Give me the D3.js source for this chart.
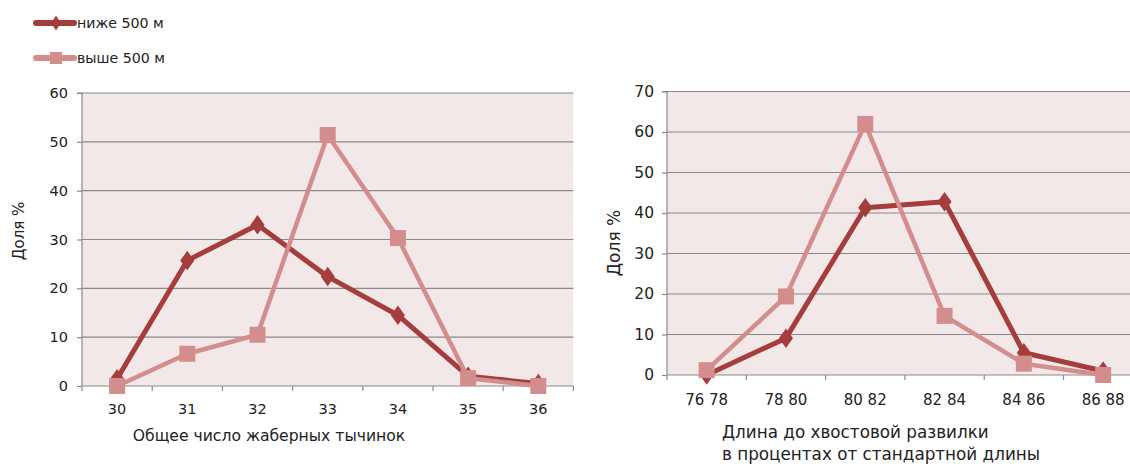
<!DOCTYPE html>
<html><head><meta charset="utf-8">
<script src="https://cdn.jsdelivr.net/npm/d3@7"></script>
<style>body{margin:0;background:#fff}svg{display:block}text{font-family:"DejaVu Sans",sans-serif;fill:#222}</style>
</head><body>
<svg id="c" width="1130" height="467"></svg>
<script>
const seriesNames = ["ниже 500 м", "выше 500 м"];
const colors = ["#a53d3d", "#d48d8d"];

const leftCategories = ["30","31","32","33","34","35","36"];
const leftBelow = [1.5, 25.7, 33, 22.4, 14.5, 2, 0.5];
const leftAbove = [0, 6.6, 10.5, 51.4, 30.3, 1.6, 0];
const leftTicks = [0,10,20,30,40,50,60];

const rightCategories = ["76 78","78 80","80 82","82 84","84 86","86 88"];
const rightBelow = [0, 9.1, 41.3, 42.8, 5.5, 1];
const rightAbove = [1.2, 19.4, 62, 14.6, 2.8, 0];
const rightTicks = [0,10,20,30,40,50,60,70];

const svg = d3.select("#c");

function chart(o){
  const g = svg.append("g");
  const x = d3.scaleBand().domain(o.cats).range([o.x0, o.x0 + o.bw*o.cats.length]);
  const y = d3.scaleLinear().domain([0, o.ymax]).range([o.y0, o.y1]);
  const clipId = "clip"+o.id;
  svg.append("clipPath").attr("id", clipId).append("rect").attr("x",0).attr("y",0).attr("width",o.clipR).attr("height",467);
  const gc = g.append("g").attr("clip-path","url(#"+clipId+")");
  gc.append("rect").attr("x",o.x0).attr("y",o.y1).attr("width",x.range()[1]-o.x0).attr("height",o.y0-o.y1).attr("fill","#f3e8e8");
  // gridlines
  gc.append("g").selectAll("line").data(o.ticks.filter(t=>t>0)).join("line")
    .attr("x1",o.x0).attr("x2",x.range()[1]).attr("y1",d=>y(d)).attr("y2",d=>y(d))
    .attr("stroke","#8a8a8a").attr("stroke-width",1.2);
  // y axis
  const ya = d3.axisLeft(y).tickValues(o.ticks).tickSize(5).tickPadding(o.ypad);
  const yg = g.append("g").attr("transform",`translate(${o.x0},0)`).call(ya);
  yg.select(".domain").attr("stroke","#8a8a8a").attr("stroke-width",1.2).attr("d",`M-5,${o.y1}H0V${o.y0}`);
  yg.selectAll(".tick line").attr("stroke","#8a8a8a").attr("stroke-width",1.2);
  yg.selectAll(".tick text").attr("font-size",o.yfs).attr("fill","#222").style("font-family",'"DejaVu Sans",sans-serif');
  // x axis
  const bounds = o.cats.map((c,i)=>x(c)).concat([x.range()[1]]);
  const xg = gc.append("g");
  xg.append("line").attr("x1",o.x0).attr("x2",x.range()[1]).attr("y1",o.y0).attr("y2",o.y0).attr("stroke","#8a8a8a").attr("stroke-width",1.2);
  xg.selectAll("line.t").data(bounds).join("line").attr("class","t")
    .attr("x1",d=>d).attr("x2",d=>d).attr("y1",o.y0).attr("y2",o.y0+5).attr("stroke","#8a8a8a").attr("stroke-width",1.2);
  g.append("g").selectAll("text").data(o.cats).join("text")
    .attr("x",d=>x(d)+x.bandwidth()/2).attr("y",o.xly).attr("text-anchor","middle")
    .attr("font-size",o.xfs).text(d=>d);
  // series
  const cx = d=>x(d)+x.bandwidth()/2;
  const line = d3.line().x(d=>cx(d[0])).y(d=>y(d[1]));
  const below = o.cats.map((c,i)=>[c,o.below[i]]);
  const above = o.cats.map((c,i)=>[c,o.above[i]]);
  gc.append("path").datum(below).attr("d",line).attr("fill","none").attr("stroke",colors[0]).attr("stroke-width",5).attr("stroke-linejoin","round");
  gc.append("g").selectAll("path").data(below).join("path")
    .attr("d",d3.symbol(d3.symbolDiamond,110)).attr("transform",d=>`translate(${cx(d[0])},${y(d[1])}) scale(1.25,1)`).attr("fill",colors[0]);
  gc.append("path").datum(above).attr("d",line).attr("fill","none").attr("stroke",colors[1]).attr("stroke-width",4.5).attr("stroke-linejoin","round");
  gc.append("g").selectAll("rect").data(above).join("rect")
    .attr("x",d=>cx(d[0])-8).attr("y",d=>y(d[1])-8).attr("width",16).attr("height",16).attr("fill",colors[1]);
  // axis titles
  g.append("text").attr("transform",`translate(${o.ytx},${o.yty}) rotate(-90)`).attr("text-anchor","middle")
    .attr("font-size",o.ytfs).text("Доля %");
  o.xt.forEach((t,i)=>{
    g.append("text").attr("x",o.xtx).attr("y",o.xty + i*o.xtlh).attr("text-anchor",o.xtanchor).attr("font-size",o.xtfs).text(t);
  });
}

chart({id:"L", cats:leftCategories, below:leftBelow, above:leftAbove, ticks:leftTicks, ymax:60,
  x0:82, bw:70.2, y0:386, y1:93, clipR:1130, ypad:9, yfs:14.5, xfs:14.5, xly:414,
  ytx:24, yty:231, ytfs:15, xt:["Общее число жаберных тычинок"], xtx:269, xty:441, xtlh:0, xtanchor:"middle", xtfs:15.6});

chart({id:"R", cats:rightCategories, below:rightBelow, above:rightAbove, ticks:rightTicks, ymax:70,
  x0:667, bw:79.3, y0:375, y1:91.5, clipR:1130, ypad:8, yfs:15.5, xfs:15, xly:405,
  ytx:620, yty:243, ytfs:17, xt:["Длина до хвостовой развилки","в процентах от стандартной длины"], xtx:722, xty:438, xtlh:22, xtanchor:"start", xtfs:16.8});

// legend
const leg = svg.append("g");
[0,1].forEach(i=>{
  const ly = 23 + i*35;
  leg.append("line").attr("x1",36).attr("x2",74).attr("y1",ly).attr("y2",ly).attr("stroke",colors[i]).attr("stroke-width",6).attr("stroke-linecap","round");
  if(i===0){
    leg.append("path").attr("d",d3.symbol(d3.symbolDiamond,60)).attr("transform",`translate(56,${ly}) scale(1.2,1)`).attr("fill",colors[0]);
  } else {
    leg.append("rect").attr("x",50).attr("y",ly-6).attr("width",12).attr("height",12).attr("fill",colors[1]);
  }
  leg.append("text").attr("x",77).attr("y",ly+5).attr("font-size",14.2).text(seriesNames[i]);
});
</script>
</body></html>
